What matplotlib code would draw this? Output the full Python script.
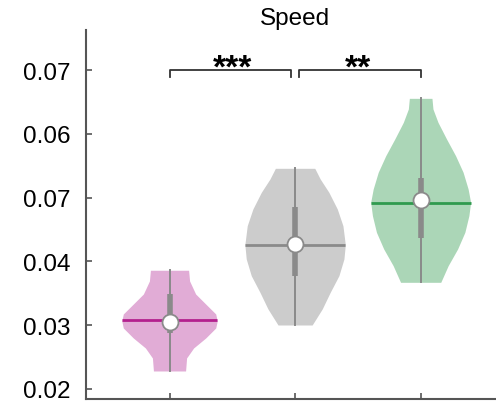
import numpy as np
import matplotlib.pyplot as plt

# dane
pozycje = [1, 2, 3]
kolory_tla = ['#e1acd6', '#cccccc', '#abd6b7']
kolory_mediany = ['#b3208e', '#8a8a8a', '#2f9a4e']

# profile skrzypiec: wartosc -> polowa szerokosci
profil_y = [
    [0.03861, 0.03693, 0.03489, 0.03332, 0.03176, 0.03066, 0.02956, 0.02799, 0.02643, 0.02486, 0.02282],
    [0.05459, 0.05292, 0.05083, 0.04822, 0.04560, 0.04262, 0.04038, 0.03776, 0.03516, 0.03254, 0.03003],
    [0.06556, 0.06389, 0.06180, 0.05919, 0.05657, 0.05397, 0.05135, 0.04926, 0.04716, 0.04456, 0.04194, 0.03933, 0.03672],
]
profil_szer = [
    [0.152, 0.160, 0.208, 0.288, 0.368, 0.380, 0.368, 0.288, 0.192, 0.136, 0.128],
    [0.157, 0.200, 0.269, 0.336, 0.381, 0.400, 0.389, 0.349, 0.280, 0.216, 0.136],
    [0.090, 0.098, 0.138, 0.206, 0.278, 0.338, 0.378, 0.398, 0.384, 0.352, 0.294, 0.219, 0.160],
]
mediany = [0.0308, 0.0426, 0.04915]
srednie = [0.0305, 0.0427, 0.04967]
q1 = [0.0287, 0.03776, 0.04359]
q3 = [0.0349, 0.04846, 0.05301]
minima = [0.02282, 0.03003, 0.03672]
maksima = [0.03861, 0.05459, 0.06556]

yticki = [0.02, 0.03, 0.04, 0.05, 0.06, 0.07]
yetykiety = ['0.02', '0.03', '0.04', '0.07', '0.06', '0.07']

porownania = [(1, 2, '***'), (2, 3, '**')]
poziom_klamry = 0.07

plt.rcParams['font.family'] = ['Liberation Sans', 'DejaVu Sans']

fig = plt.figure(figsize=(4.96, 4.06), dpi=100)
ax = fig.add_axes([0.1734, 0.0148, 0.8266, 0.9088])

for i, x in enumerate(pozycje):
    ys = np.array(profil_y[i])
    w = np.array(profil_szer[i])
    ax.fill_betweenx(ys, x - w, x + w, color=kolory_tla[i], lw=0, zorder=1)
    szer_med = np.interp(mediany[i], ys[::-1], w[::-1])
    ax.plot([x - szer_med, x + szer_med], [mediany[i]] * 2,
            color=kolory_mediany[i], lw=2, zorder=2, solid_capstyle='butt')
    ax.plot([x, x], [minima[i], maksima[i]], color='#8a8a8a', lw=1.4, zorder=3)
    ax.plot([x, x], [q1[i], q3[i]], color='#8a8a8a', lw=4, zorder=3,
            solid_capstyle='butt')
    ax.plot(x, srednie[i], 'o', ms=11.5, mfc='white', mec='#8a8a8a', mew=1.3, zorder=4)

for a, b, gwiazdki in porownania:
    lewo = a if a == 1 else a + 0.03
    prawo = b - 0.03 if b == 2 else b
    ax.plot([lewo, lewo, prawo, prawo],
            [poziom_klamry - 0.0011, poziom_klamry, poziom_klamry, poziom_klamry - 0.0011],
            color='#333333', lw=1.3, clip_on=False)
    ax.text((a + b) / 2, poziom_klamry - 0.0010, gwiazdki, ha='center', va='baseline',
            fontsize=24, fontweight='bold', color='black')

ax.set_xlim(0.335, 3.60)
ax.set_ylim(0.01843, 0.07627)
ax.set_xticks(pozycje)
ax.set_xticklabels([])
ax.set_yticks(yticki)
ax.set_yticklabels(yetykiety, fontsize=17.5)
ax.tick_params(direction='in', length=4, width=1.2, color='#555555', pad=11)

for strona in ['top', 'right']:
    ax.spines[strona].set_visible(False)
for strona in ['left', 'bottom']:
    ax.spines[strona].set_color('#555555')
    ax.spines[strona].set_linewidth(1.5)

ax.text(2, 1.003, 'Speed', transform=ax.get_xaxis_transform(), ha='center',
        va='bottom', fontsize=17.5)

fig.savefig('out.png', dpi=100)
